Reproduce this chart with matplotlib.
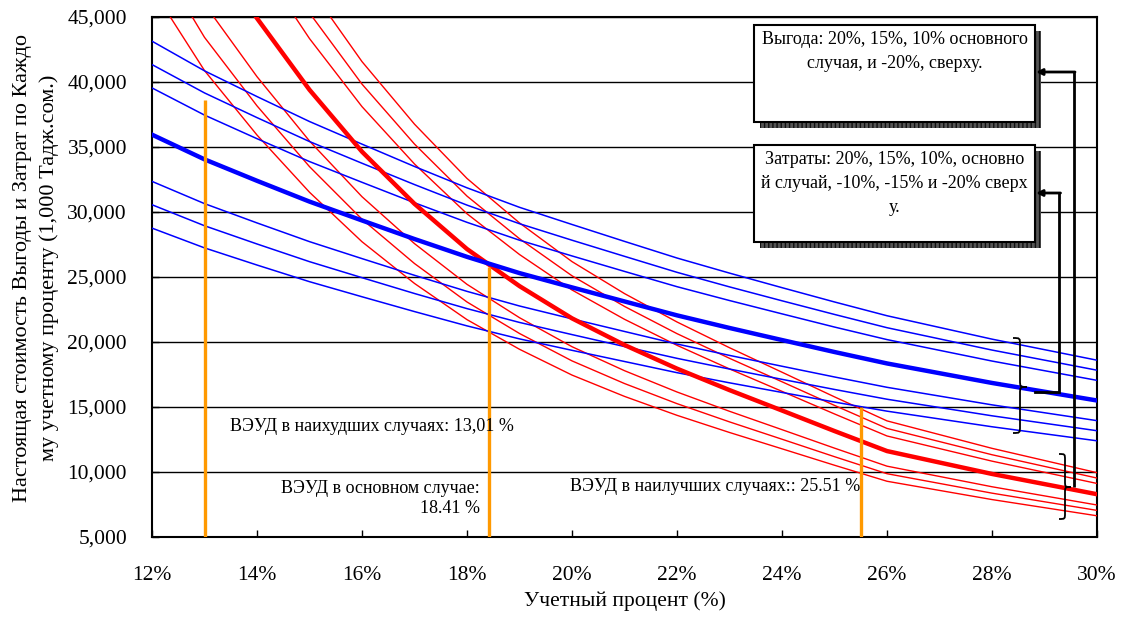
import matplotlib
matplotlib.use("Agg")
import matplotlib.pyplot as plt
from matplotlib.path import Path
from matplotlib.patches import PathPatch, Rectangle
from matplotlib.ticker import FuncFormatter

plt.rcParams['font.family'] = ['Liberation Serif', 'DejaVu Serif']

# Discount rates (%) at which present values were computed
rates = [12, 13, 14, 15, 16, 17, 18, 19, 20, 21, 22, 23, 24, 25, 26, 28, 30]

# Present value of benefits (1,000 TJS): +20%, +15%, +10%, base, -10%, -15%, -20%
benefit_p20 = [43140, 40860, 38880, 36960, 35220, 33500, 31860, 30360, 29040, 27740, 26460,
               25300, 24180, 23080, 22020, 20220, 18600]
benefit_p15 = [41340, 39160, 37260, 35420, 33750, 32110, 30530, 29100, 27830, 26590, 25360,
               24240, 23170, 22120, 21100, 19380, 17830]
benefit_p10 = [39545, 37455, 35640, 33880, 32285, 30710, 29205, 27830, 26620, 25430, 24255,
               23190, 22165, 21150, 20185, 18535, 17050]
benefit_base = [35950, 34050, 32400, 30800, 29350, 27920, 26550, 25300, 24200, 23120, 22050,
                21080, 20150, 19230, 18350, 16850, 15500]
benefit_m10 = [32355, 30645, 29160, 27720, 26415, 25130, 23895, 22770, 21780, 20810, 19845,
               18970, 18135, 17310, 16515, 15165, 13950]
benefit_m15 = [30558, 28943, 27540, 26180, 24948, 23730, 22568, 21505, 20570, 19650, 18743,
               17920, 17128, 16350, 15598, 14323, 13175]
benefit_m20 = [28760, 27240, 25920, 24640, 23480, 22340, 21240, 20240, 19360, 18500, 17640,
               16860, 16120, 15380, 14680, 13480, 12400]

# Present value of costs (1,000 TJS): +20%, +15%, +10%, base, -10%, -15%, -20%
cost_p20 = [70800, 61320, 53880, 47280, 41568, 36756, 32580, 29160, 26184, 23724, 21540,
            19560, 17676, 15780, 13932, 11820, 9948]
cost_p15 = [67850, 58765, 51635, 45310, 39836, 35225, 31223, 27945, 25093, 22736, 20643,
            18745, 16940, 15123, 13352, 11328, 9534]
cost_p10 = [64900, 56210, 49390, 43340, 38104, 33693, 29865, 26730, 24002, 21747, 19745,
            17930, 16203, 14465, 12771, 10835, 9119]
cost_base = [59000, 51100, 44900, 39400, 34640, 30630, 27150, 24300, 21820, 19770, 17950,
             16300, 14730, 13150, 11610, 9850, 8290]
cost_m10 = [53100, 45990, 40410, 35460, 31176, 27567, 24435, 21870, 19638, 17793, 16155,
            14670, 13257, 11835, 10449, 8865, 7461]
cost_m15 = [50150, 43435, 38165, 33490, 29444, 26036, 23078, 20655, 18547, 16805, 15258,
            13855, 12521, 11178, 9869, 8373, 7047]
cost_m20 = [47200, 40880, 35920, 31520, 27712, 24504, 21720, 19440, 17456, 15816, 14360,
            13040, 11784, 10520, 9288, 7880, 6632]

# EIRR markers: rate (%) and height of the marker line
eirr_rates = [13.01, 18.41, 25.51]
eirr_tops = [38600, 25800, 15000]
eirr_labels = ["ВЭУД в наихудших случаях: 13,01 %",
               "ВЭУД в основном случае:\n18.41 %",
               "ВЭУД в наилучших случаях:: 25.51 %"]

x_ticks = [12, 14, 16, 18, 20, 22, 24, 26, 28, 30]
y_ticks = [5000, 10000, 15000, 20000, 25000, 30000, 35000, 40000, 45000]

ylabel = "Настоящая стоимость Выгоды и Затрат по Каждо\nму учетному проценту (1,000 Тадж.сом.)"
xlabel = "Учетный процент (%)"
benefit_note = "Выгода: 20%, 15%, 10% основного\nслучая, и -20%, сверху."
cost_note = "Затраты: 20%, 15%, 10%, основно\nй случай, -10%, -15% и -20% сверх\nу."

W, H = 1122, 617
fig = plt.figure(figsize=(W / 100, H / 100), dpi=100)
ax = fig.add_axes([152 / W, 1 - 537 / H, (1097 - 152) / W, (537 - 17) / H])

ax.set_xlim(12, 30)
ax.set_ylim(5000, 45000)
ax.set_xticks(x_ticks)
ax.set_yticks(y_ticks)
ax.xaxis.set_major_formatter(FuncFormatter(lambda v, p: f"{v:.0f}%"))
ax.yaxis.set_major_formatter(FuncFormatter(lambda v, p: f"{v:,.0f}"))
ax.tick_params(axis='both', direction='in', length=5, width=1, labelsize=15.5)
ax.tick_params(axis='x', pad=21)
ax.tick_params(axis='y', pad=18)
ax.yaxis.grid(True, color='black', lw=1.0)
ax.set_axisbelow(True)
for s in ax.spines.values():
    s.set_linewidth(1.5)
    s.set_color('black')

blue_thin = [benefit_p20, benefit_p15, benefit_p10, benefit_m10, benefit_m15, benefit_m20]
red_thin = [cost_p20, cost_p15, cost_p10, cost_m10, cost_m15, cost_m20]
for s in red_thin:
    ax.plot(rates, s, color='#ff0000', lw=1.0, zorder=3)
for s in blue_thin:
    ax.plot(rates, s, color='#0000ff', lw=1.1, zorder=3)
ax.plot(rates, cost_base, color='#ff0000', lw=3.2, zorder=4)
ax.plot(rates, benefit_base, color='#0000ff', lw=3.2, zorder=4)

ax.vlines(eirr_rates, 5000, eirr_tops, color='#ff9900', lw=2.4, zorder=5)

ax.text(13.48, 13480, eirr_labels[0], ha='left', va='center', fontsize=13, zorder=6)
ax.text(18.25, 7960, eirr_labels[1], ha='right', va='center', multialignment='right',
        fontsize=13, zorder=6)
ax.text(25.49, 8870, eirr_labels[2], ha='right', va='center', fontsize=13, zorder=6)

fig.text(624.5 / W, 1 - 601 / H, xlabel, ha='center', va='center', fontsize=15.5)
fig.text(36 / W, 1 - 268 / H, ylabel, ha='center', va='center', rotation=90,
         multialignment='center', linespacing=1.45, fontsize=16)

# Overlay in pixel coordinates for callout boxes, braces and connectors
ov = fig.add_axes([0, 0, 1, 1], zorder=10)
ov.set_xlim(0, W)
ov.set_ylim(H, 0)
ov.axis('off')
ov.patch.set_alpha(0)


def callout(x0, y0, x1, y1, text, line_ys):
    shadow = Rectangle((x0 + 6, y0 + 6), x1 - x0, y1 - y0, facecolor='#555555',
                       edgecolor='#111111', hatch='||||', lw=0)
    ov.add_patch(shadow)
    box = Rectangle((x0, y0), x1 - x0, y1 - y0, facecolor='white', edgecolor='black', lw=1.5)
    ov.add_patch(box)
    for t, y in zip(text.split("\n"), line_ys):
        ov.text((x0 + x1) / 2, y, t, ha='center', va='center', fontsize=13)


def brace(xl, xr, yt, yb, ym):
    xm = (xl + xr) / 2
    r = (xr - xl) / 2
    verts = [(xl, yt),
             (xm, yt), (xm, yt), (xm, yt + r),
             (xm, ym - r),
             (xm, ym), (xm, ym), (xr, ym),
             (xm, ym), (xm, ym), (xm, ym + r),
             (xm, yb - r),
             (xm, yb), (xm, yb), (xl, yb)]
    codes = [Path.MOVETO,
             Path.CURVE4, Path.CURVE4, Path.CURVE4,
             Path.LINETO,
             Path.CURVE4, Path.CURVE4, Path.CURVE4,
             Path.CURVE4, Path.CURVE4, Path.CURVE4,
             Path.LINETO,
             Path.CURVE4, Path.CURVE4, Path.CURVE4]
    ov.add_patch(PathPatch(Path(verts, codes), facecolor='none', edgecolor='black', lw=1.3))


callout(754, 25, 1035, 122, benefit_note, [39, 63])
callout(754, 145, 1035, 242, cost_note, [159, 184, 208])

brace(1013, 1027, 338, 433, 387)
brace(1059, 1071, 454, 519, 487)

arrow = dict(arrowstyle='-|>', lw=2, color='black', mutation_scale=9, shrinkA=0, shrinkB=0)
ov.plot([1074, 1074], [487, 72], color='black', lw=2, solid_capstyle='butt')
ov.annotate('', xy=(1036, 72), xytext=(1075, 72), arrowprops=arrow)
ov.plot([1035, 1059.5, 1059.5], [392, 392, 193], color='black', lw=2, solid_joinstyle='miter')
ov.annotate('', xy=(1036, 193), xytext=(1060.5, 193), arrowprops=arrow)

fig.savefig("out.png", dpi=100)
